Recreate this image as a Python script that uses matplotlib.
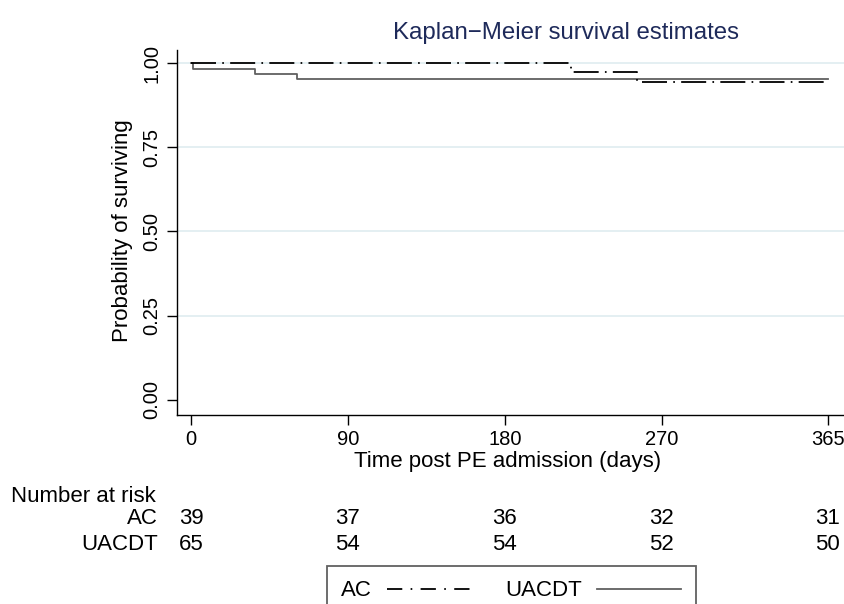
import matplotlib
matplotlib.use("Agg")
import matplotlib.pyplot as plt
from matplotlib.lines import Line2D
from matplotlib.transforms import blended_transform_factory

plt.rcParams['font.family'] = ['Liberation Sans', 'DejaVu Sans']
plt.rcParams['lines.scale_dashes'] = False

# ---- data ----
ac_time = [0, 218, 256, 365]
ac_surv = [1.0, 0.974, 0.944, 0.944]
ua_time = [0, 1, 37, 61, 365]
ua_surv = [1.0, 0.984, 0.969, 0.953, 0.953]

xticks = [0, 90, 180, 270, 365]
yticks = [0.00, 0.25, 0.50, 0.75, 1.00]
ytick_labels = ["0.00", "0.25", "0.50", "0.75", "1.00"]

risk_groups = ["AC", "UACDT"]
risk_ac = [39, 37, 36, 32, 31]
risk_ua = [65, 54, 54, 52, 50]

W, H = 845, 604
fig = plt.figure(figsize=(W / 100, H / 100), dpi=100)

def fx(px):
    return px / W

def fy(py):
    return 1 - py / H

ax = fig.add_axes([fx(177), fy(415), fx(845) - fx(177), fy(50) - fy(415)])
ax.set_xlim(-8, 375)
ax.set_ylim(-0.045, 1.039)

# grid
for y in yticks[1:]:
    ax.axhline(y, color='#dfecf0', lw=1.2, zorder=0)

dash_ac = (0, (18, 4.5, 1.2, 4.5))
ax.step(ac_time, ac_surv, where='post', color='black', lw=1.3,
        linestyle=dash_ac, zorder=3)
ax.step(ua_time, ua_surv, where='post', color='#606060', lw=1.3, zorder=2)

for s in ['top', 'right']:
    ax.spines[s].set_visible(False)
for s in ['left', 'bottom']:
    ax.spines[s].set_linewidth(1.0)

ax.set_xticks(xticks)
ax.set_xticklabels([str(t) for t in xticks], fontsize=14.5)
ax.set_yticks(yticks)
ax.set_yticklabels(ytick_labels, fontsize=14.5, rotation=90, va='center')
ax.tick_params(axis='both', direction='out', length=7, width=1.0, pad=4)

ax.set_xlabel("Time post PE admission (days)", fontsize=16, va='center', ha='center')
ax.xaxis.set_label_coords(fx(508), fy(462), transform=fig.transFigure)
ax.set_ylabel("Probability of surviving", fontsize=16, va='center', ha='center')
ax.yaxis.set_label_coords(fx(123), fy(231), transform=fig.transFigure)

fig.text(fx(566), fy(33), "Kaplan\u2212Meier survival estimates", fontsize=17.3,
         color='#1e2a5a', ha='center', va='center')

# number at risk table
trans = blended_transform_factory(ax.transData, fig.transFigure)
fig.text(fx(11), fy(496), "Number at risk", fontsize=16, ha='left', va='center')
for label, vals, ypx in [(risk_groups[0], risk_ac, 519), (risk_groups[1], risk_ua, 544)]:
    fig.text(fx(158), fy(ypx), label, fontsize=16, ha='right', va='center')
    for t, v in zip(xticks, vals):
        ax.text(t, fy(ypx), str(v), transform=trans, fontsize=16,
                ha='center', va='center', clip_on=False)

# legend
handles = [Line2D([], [], color='black', lw=1.3, linestyle=(0, (11, 6, 1.2, 6))),
           Line2D([], [], color='#606060', lw=1.3)]
leg = fig.legend(handles, risk_groups, loc='upper left',
                 bbox_to_anchor=(fx(327), fy(566)), ncol=2, fontsize=16,
                 markerfirst=False, frameon=True, fancybox=False,
                 handlelength=3.8, columnspacing=1.55, handletextpad=0.65,
                 borderpad=0.65, borderaxespad=0)
leg.get_frame().set_edgecolor('#3a3a3a')
leg.get_frame().set_linewidth(1.3)

fig.savefig("out.png", dpi=100)
